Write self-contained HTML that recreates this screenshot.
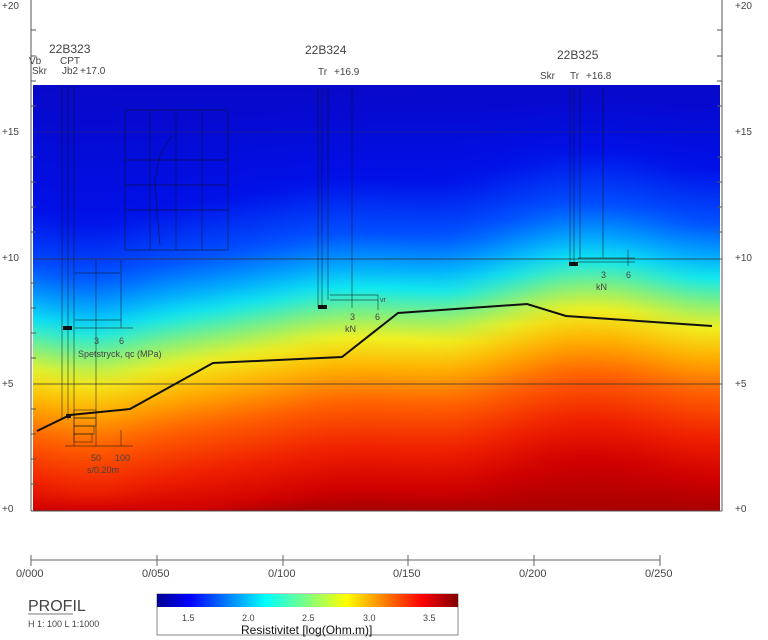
<!DOCTYPE html>
<html><head><meta charset="utf-8"><style>
html,body{margin:0;padding:0;background:#fff;width:768px;height:640px;overflow:hidden}
svg{display:block}
text{font-family:"Liberation Sans",sans-serif;fill:#444}
</style></head><body>
<svg width="768" height="640" viewBox="0 0 768 640" xmlns="http://www.w3.org/2000/svg">
<defs>
<filter id="bl" x="-0.2" y="0" width="1.4" height="1" color-interpolation-filters="sRGB"><feGaussianBlur stdDeviation="30 0"/></filter>
<clipPath id="cp"><rect x="33" y="85" width="687" height="426"/></clipPath>
<linearGradient id="jet" x1="0" x2="1" y1="0" y2="0">
<stop offset="0" stop-color="#00008f"/><stop offset="0.11" stop-color="#0000ff"/><stop offset="0.36" stop-color="#00ffff"/><stop offset="0.5" stop-color="#80ff80"/><stop offset="0.63" stop-color="#ffff00"/><stop offset="0.88" stop-color="#ff0000"/><stop offset="1" stop-color="#800000"/>
</linearGradient>
</defs>
<g clip-path="url(#cp)">
<g filter="url(#bl)" id="field"></g>
</g>
<script>
(function(){
var cols=[[-40,60,320],[60,120,335],[120,180,320],[180,240,310],[240,300,300],[300,420,288],[420,480,292],[480,540,275],[540,600,258],[600,660,262],[660,800,278]];
var cs=[[-110,"#0010e8"],[-55,"#0050ff"],[-25,"#00a0ff"],[0,"#10e8f0"],[25,"#80f080"],[50,"#f0f020"],[80,"#ffb000"],[115,"#ff6000"],[160,"#f02000"],[200,"#d00000"]];
var ns="http://www.w3.org/2000/svg",defs=document.querySelector("defs"),g=document.getElementById("field");
cols.forEach(function(c,i){
 var lg=document.createElementNS(ns,"linearGradient");lg.setAttribute("id","c"+i);lg.setAttribute("gradientUnits","userSpaceOnUse");
 lg.setAttribute("x1",0);lg.setAttribute("x2",0);lg.setAttribute("y1",85);lg.setAttribute("y2",510);
 var st=[[0,"#0808c8"]];cs.forEach(function(s){var o=(c[2]+s[0]-85)/425;st.push([Math.min(Math.max(o,0),1),s[1]]);});st.push([1,"#a80000"]);
 st.forEach(function(s){var e=document.createElementNS(ns,"stop");e.setAttribute("offset",s[0]);e.setAttribute("stop-color",s[1]);lg.appendChild(e);});
 defs.appendChild(lg);
 var r=document.createElementNS(ns,"rect");r.setAttribute("x",c[0]);r.setAttribute("y",85);r.setAttribute("width",c[1]-c[0]);r.setAttribute("height",426);r.setAttribute("fill","url(#c"+i+")");g.appendChild(r);
});
})();
</script>
<g stroke="#555" stroke-width="1" fill="none">
<line x1="31" y1="0" x2="31" y2="511"/><line x1="722" y1="0" x2="722" y2="511"/>
<line x1="31" y1="511" x2="722" y2="511"/>
</g>
<g stroke="#333" stroke-width="0.8">
<line x1="33" y1="132" x2="720" y2="132" stroke-opacity="0.5"/>
<line x1="33" y1="259" x2="722" y2="259"/>
<line x1="33" y1="384" x2="722" y2="384"/>
</g>
<g stroke="#555" stroke-width="1">
<line x1="31" y1="30" x2="36" y2="30"/><line x1="31" y1="56" x2="36" y2="56"/><line x1="31" y1="81" x2="36" y2="81"/><line x1="31" y1="106" x2="36" y2="106"/>
<line x1="31" y1="157" x2="36" y2="157"/><line x1="31" y1="182" x2="36" y2="182"/><line x1="31" y1="207" x2="36" y2="207"/><line x1="31" y1="232" x2="36" y2="232"/>
<line x1="31" y1="283" x2="36" y2="283"/><line x1="31" y1="308" x2="36" y2="308"/><line x1="31" y1="333" x2="36" y2="333"/><line x1="31" y1="358" x2="36" y2="358"/>
<line x1="31" y1="409" x2="36" y2="409"/><line x1="31" y1="434" x2="36" y2="434"/><line x1="31" y1="459" x2="36" y2="459"/><line x1="31" y1="484" x2="36" y2="484"/>
<line x1="717" y1="30" x2="722" y2="30"/><line x1="717" y1="56" x2="722" y2="56"/><line x1="717" y1="81" x2="722" y2="81"/><line x1="717" y1="106" x2="722" y2="106"/>
<line x1="717" y1="157" x2="722" y2="157"/><line x1="717" y1="182" x2="722" y2="182"/><line x1="717" y1="207" x2="722" y2="207"/><line x1="717" y1="232" x2="722" y2="232"/>
</g>
<g font-size="10">
<text x="2" y="9">+20</text><text x="2" y="135">+15</text><text x="2" y="261">+10</text><text x="2" y="387">+5</text><text x="2" y="512">+0</text>
<text x="735" y="9">+20</text><text x="735" y="135">+15</text><text x="735" y="261">+10</text><text x="735" y="387">+5</text><text x="735" y="512">+0</text>
</g>
<g font-size="10">
<text x="49" y="53" font-size="12">22B323</text>
<text x="29" y="64">Vb</text><text x="60" y="64">CPT</text>
<text x="32" y="74">Skr</text><text x="62" y="74">Jb2</text><text x="80" y="74">+17.0</text>
<text x="305" y="54" font-size="12">22B324</text>
<text x="318" y="75">Tr</text><text x="334" y="75">+16.9</text>
<text x="557" y="59" font-size="12">22B325</text>
<text x="540" y="79">Skr</text><text x="570" y="79">Tr</text><text x="586" y="79">+16.8</text>
</g>
<g stroke="#111" stroke-width="0.7" fill="none" stroke-opacity="0.7">
<line x1="62" y1="85" x2="62" y2="420"/><line x1="68" y1="85" x2="68" y2="420"/><line x1="74" y1="85" x2="74" y2="446"/>
<line x1="96" y1="260" x2="96" y2="446"/><line x1="121" y1="260" x2="121" y2="328"/>
<line x1="75" y1="328" x2="133" y2="328"/><line x1="75" y1="320" x2="121" y2="320"/><line x1="75" y1="273" x2="120" y2="273"/>
<line x1="65" y1="446" x2="133" y2="446"/><line x1="121" y1="430" x2="121" y2="446"/>
<rect x="74" y="410" width="22" height="8"/><rect x="74" y="418" width="22" height="8"/><rect x="74" y="426" width="20" height="8"/><rect x="74" y="434" width="18" height="8"/>
<rect x="125" y="110" width="103" height="140"/>
<line x1="150" y1="110" x2="150" y2="250"/><line x1="176" y1="110" x2="176" y2="250"/><line x1="202" y1="110" x2="202" y2="250"/>
<line x1="125" y1="160" x2="228" y2="160"/><line x1="125" y1="185" x2="228" y2="185"/><line x1="125" y1="210" x2="228" y2="210"/>
<polyline points="172,135 160,155 155,180 157,210 160,245"/>
<line x1="318" y1="88" x2="318" y2="307"/><line x1="322" y1="88" x2="322" y2="307"/><line x1="328" y1="88" x2="328" y2="300"/><line x1="352" y1="88" x2="352" y2="308"/>
<line x1="330" y1="300" x2="378" y2="300"/><line x1="330" y1="295" x2="378" y2="295"/><line x1="378" y1="295" x2="378" y2="310"/>
<line x1="570" y1="88" x2="570" y2="264"/><line x1="574" y1="88" x2="574" y2="264"/><line x1="580" y1="88" x2="580" y2="258"/><line x1="603" y1="88" x2="603" y2="258"/>
<line x1="578" y1="258" x2="635" y2="258"/><line x1="578" y1="262" x2="635" y2="262"/><line x1="628" y1="250" x2="628" y2="266"/>
</g>
<g fill="#111"><rect x="63" y="326" width="9" height="4"/><rect x="318" y="305" width="9" height="4"/><rect x="569" y="262" width="9" height="4"/><rect x="66" y="414" width="5" height="4"/></g>
<g font-size="9">
<text x="94" y="344">3</text><text x="119" y="344">6</text>
<text x="78" y="357">Spetstryck, qc (MPa)</text>
<text x="91" y="461">50</text><text x="115" y="461">100</text>
<text x="87" y="473">s/0.20m</text>
<text x="350" y="320">3</text><text x="375" y="320">6</text><text x="345" y="332">kN</text><text x="380" y="302" font-size="7">vr</text>
<text x="601" y="278">3</text><text x="626" y="278">6</text><text x="596" y="290">kN</text>
</g>
<polyline points="37,431 70,415 130,409 213,363 342,357 398,313 527,304 566,316 712,326" fill="none" stroke="#111" stroke-width="2"/>
<g stroke="#666" stroke-width="1">
<line x1="31" y1="560" x2="660" y2="560"/>
<line x1="31" y1="555" x2="31" y2="566"/><line x1="157" y1="555" x2="157" y2="566"/><line x1="283" y1="555" x2="283" y2="566"/>
<line x1="408" y1="555" x2="408" y2="566"/><line x1="534" y1="555" x2="534" y2="566"/><line x1="660" y1="555" x2="660" y2="566"/>
</g>
<g font-size="11">
<text x="16" y="577">0/000</text><text x="142" y="577">0/050</text><text x="268" y="577">0/100</text>
<text x="393" y="577">0/150</text><text x="519" y="577">0/200</text><text x="645" y="577">0/250</text>
</g>
<text x="28" y="611" font-size="16" fill="#777">PROFIL</text>
<line x1="28" y1="614" x2="73" y2="614" stroke="#777"/>
<text x="28" y="627" font-size="9" fill="#777">H 1: 100   L 1:1000</text>
<rect x="157" y="594" width="301" height="41" fill="#fff" stroke="#888"/>
<rect x="157" y="594" width="301" height="13" fill="url(#jet)"/>
<g font-size="9" fill="#222">
<text x="182" y="621">1.5</text><text x="242" y="621">2.0</text><text x="302" y="621">2.5</text><text x="363" y="621">3.0</text><text x="423" y="621">3.5</text>
</g>
<text x="241" y="634" font-size="12" style="fill:#111">Resistivitet [log(Ohm.m)]</text>
</svg>
</body></html>
